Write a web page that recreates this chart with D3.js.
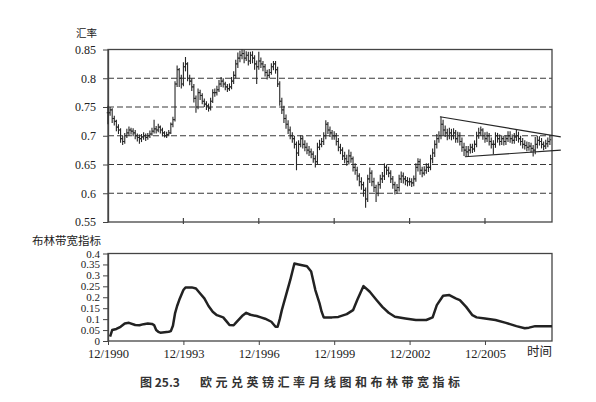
<!DOCTYPE html>
<html><head><meta charset="utf-8">
<script src="https://cdn.jsdelivr.net/npm/d3@7/dist/d3.min.js"></script>
<style>body{margin:0;background:#fff}svg{display:block}</style>
</head><body>
<svg id="c" width="596" height="402"></svg>
<script>
// ---- data ----
const tickMonths = [0, 36, 72, 108, 144, 180];           // months since 12/1990
const tickLabels = ["12/1990", "12/1993", "12/1996", "12/1999", "12/2002", "12/2005"];
const priceTicks = [0.55, 0.6, 0.65, 0.7, 0.75, 0.8, 0.85];
const gridValues = [0.6, 0.65, 0.7, 0.75, 0.8];
const bwTicks = [0, 0.05, 0.1, 0.15, 0.2, 0.25, 0.3, 0.35, 0.4];

// monthly EUR/GBP close, high, low (month 0 = 12/1990)
const close = [
0.740,0.745,0.730,0.725,0.715,0.710,0.695,0.690,0.700,0.705,0.710,0.708,
0.705,0.700,0.697,0.695,0.698,0.700,0.697,0.700,0.703,0.708,0.712,0.710,
0.715,0.710,0.705,0.700,0.702,0.705,0.720,0.728,0.790,0.815,0.800,0.790,
0.820,0.825,0.800,0.795,0.785,0.765,0.750,0.775,0.770,0.760,0.755,0.752,
0.748,0.760,0.775,0.775,0.780,0.790,0.795,0.790,0.785,0.782,0.785,0.795,
0.805,0.825,0.835,0.840,0.843,0.835,0.840,0.830,0.840,0.835,0.825,0.820,
0.830,0.825,0.820,0.810,0.805,0.810,0.820,0.825,0.815,0.790,0.760,0.745,
0.730,0.720,0.710,0.700,0.695,0.685,0.670,0.685,0.695,0.685,0.680,0.675,
0.672,0.668,0.660,0.655,0.680,0.685,0.690,0.700,0.720,0.710,0.705,0.700,
0.700,0.690,0.680,0.675,0.665,0.660,0.655,0.665,0.660,0.645,0.640,0.630,
0.620,0.615,0.605,0.590,0.625,0.635,0.620,0.610,0.600,0.615,0.625,0.630,
0.645,0.640,0.635,0.625,0.615,0.605,0.610,0.625,0.630,0.625,0.622,0.620,
0.620,0.618,0.625,0.645,0.655,0.640,0.635,0.640,0.645,0.645,0.660,0.670,
0.685,0.695,0.700,0.720,0.710,0.705,0.700,0.705,0.700,0.705,0.695,0.700,
0.690,0.680,0.675,0.672,0.675,0.680,0.677,0.685,0.700,0.705,0.710,0.700,
0.695,0.700,0.690,0.685,0.685,0.700,0.695,0.690,0.695,0.690,0.695,0.700,
0.695,0.692,0.698,0.700,0.695,0.690,0.685,0.683,0.680,0.682,0.678,0.675,
0.685,0.692,0.690,0.685,0.682,0.686,0.690,0.693];
const high = [
0.752,0.750,0.748,0.735,0.728,0.720,0.713,0.700,0.705,0.712,0.716,0.714,
0.713,0.710,0.704,0.702,0.703,0.706,0.704,0.705,0.709,0.714,0.728,0.717,
0.721,0.718,0.714,0.708,0.707,0.710,0.723,0.733,0.795,0.822,0.818,0.806,
0.828,0.837,0.828,0.806,0.800,0.790,0.770,0.782,0.780,0.774,0.765,0.760,
0.756,0.766,0.781,0.782,0.787,0.797,0.802,0.800,0.794,0.790,0.791,0.802,
0.812,0.832,0.845,0.848,0.850,0.849,0.847,0.846,0.846,0.847,0.840,0.831,
0.846,0.836,0.830,0.825,0.815,0.816,0.826,0.830,0.830,0.820,0.795,0.766,
0.752,0.737,0.727,0.716,0.706,0.700,0.690,0.692,0.701,0.700,0.692,0.688,
0.682,0.678,0.673,0.666,0.688,0.693,0.696,0.706,0.727,0.724,0.716,0.710,
0.708,0.705,0.696,0.686,0.680,0.672,0.667,0.676,0.672,0.664,0.652,0.646,
0.635,0.628,0.620,0.610,0.632,0.645,0.640,0.627,0.615,0.620,0.632,0.637,
0.652,0.650,0.646,0.640,0.630,0.620,0.616,0.632,0.638,0.636,0.630,0.628,
0.627,0.626,0.631,0.652,0.661,0.660,0.646,0.647,0.652,0.652,0.667,0.678,
0.692,0.703,0.708,0.733,0.728,0.718,0.712,0.714,0.712,0.713,0.710,0.707,
0.706,0.697,0.688,0.682,0.682,0.686,0.686,0.692,0.707,0.714,0.716,0.713,
0.706,0.707,0.705,0.697,0.692,0.706,0.705,0.702,0.701,0.700,0.701,0.708,
0.708,0.702,0.705,0.710,0.707,0.700,0.696,0.692,0.690,0.689,0.688,0.684,
0.698,0.700,0.699,0.696,0.690,0.693,0.697,0.700];
const low = [
0.720,0.735,0.722,0.718,0.708,0.703,0.688,0.684,0.686,0.696,0.700,0.702,
0.699,0.694,0.690,0.686,0.689,0.693,0.691,0.693,0.696,0.700,0.704,0.704,
0.706,0.704,0.699,0.697,0.696,0.699,0.703,0.715,0.725,0.785,0.785,0.782,
0.786,0.812,0.795,0.788,0.778,0.758,0.740,0.746,0.762,0.755,0.750,0.745,
0.742,0.744,0.757,0.768,0.770,0.776,0.785,0.784,0.779,0.776,0.778,0.781,
0.790,0.800,0.818,0.828,0.833,0.826,0.830,0.822,0.825,0.826,0.815,0.790,
0.815,0.818,0.812,0.803,0.798,0.800,0.806,0.814,0.808,0.785,0.752,0.738,
0.722,0.712,0.703,0.694,0.688,0.678,0.640,0.665,0.680,0.678,0.673,0.668,
0.665,0.661,0.653,0.645,0.650,0.675,0.680,0.684,0.694,0.703,0.698,0.693,
0.693,0.683,0.673,0.668,0.658,0.652,0.648,0.650,0.653,0.638,0.632,0.622,
0.612,0.606,0.594,0.575,0.585,0.618,0.612,0.602,0.585,0.595,0.608,0.618,
0.623,0.632,0.628,0.618,0.608,0.598,0.599,0.603,0.618,0.617,0.614,0.612,
0.613,0.611,0.612,0.620,0.638,0.632,0.628,0.631,0.634,0.637,0.640,0.652,
0.663,0.678,0.688,0.694,0.700,0.698,0.692,0.694,0.692,0.694,0.688,0.688,
0.683,0.672,0.665,0.664,0.665,0.669,0.670,0.672,0.680,0.695,0.700,0.693,
0.688,0.689,0.683,0.678,0.668,0.679,0.688,0.683,0.684,0.683,0.684,0.689,
0.688,0.686,0.686,0.691,0.688,0.683,0.678,0.676,0.673,0.674,0.671,0.664,
0.668,0.678,0.683,0.678,0.675,0.677,0.680,0.684];

// triangle trend lines (month, rate)
const trendUpper = [[158.5, 0.733], [216.2, 0.698]];
const trendLower = [[170.4, 0.6635], [216.2, 0.675]];

// Bollinger bandwidth (month, value)
const bwMonth = [1,2,4,6,8,10,13,15,17,19,21,22,23,24,25,27,29,30,31,32,33,34,35,36,37,40,42,44,46,48,50,52,55,57,58,60,61,64,66,68,71,73,75,78,80,81,82,83,85,87,89,91,95,97,99,101,102,103,107,110,114,117,119,122,125,128,131,134,137,142,147,152,155,157,160,163,166,168,171,174,176,180,185,190,195,199,201,204,212];
const bwValue = [0.02,0.05,0.055,0.065,0.08,0.083,0.073,0.072,0.077,0.08,0.078,0.073,0.05,0.042,0.038,0.04,0.042,0.045,0.07,0.126,0.16,0.187,0.21,0.233,0.245,0.245,0.24,0.217,0.195,0.16,0.134,0.118,0.108,0.085,0.073,0.072,0.083,0.114,0.129,0.12,0.114,0.108,0.102,0.088,0.065,0.065,0.1,0.141,0.21,0.278,0.354,0.35,0.342,0.318,0.233,0.172,0.134,0.108,0.108,0.11,0.123,0.141,0.187,0.251,0.225,0.19,0.156,0.129,0.111,0.103,0.096,0.096,0.108,0.164,0.207,0.21,0.195,0.187,0.156,0.118,0.108,0.103,0.096,0.083,0.068,0.058,0.061,0.068,0.068];

// ---- drawing ----
const svg = d3.select("#c");
const ink = "#262626";
const serif = "'Liberation Serif','Times New Roman',serif";
const cjk = "'Noto Sans CJK SC',sans-serif";
const fmt = d3.format(".2~f");

const x = d3.scaleLinear().domain([0, 212]).range([108, 552]);
const yTop = d3.scaleLinear().domain([0.55, 0.85]).range([222, 49.5]);
const yBot = d3.scaleLinear().domain([0, 0.4]).range([341, 253.5]);

// ---- top panel ----
const gTop = svg.append("g");
gTop.append("g").selectAll("line").data(gridValues).join("line")
  .attr("x1", x(0)).attr("x2", x(212))
  .attr("y1", d => yTop(d)).attr("y2", d => yTop(d))
  .attr("stroke", "#3a3a3a").attr("stroke-width", 1.2).attr("stroke-dasharray", "6,3");

gTop.append("rect").attr("x", x(0)).attr("y", yTop(0.85))
  .attr("width", x(212) - x(0)).attr("height", yTop(0.55) - yTop(0.85))
  .attr("fill", "none").attr("stroke", "#444").attr("stroke-width", 1.3);

const yAxTop = gTop.append("g").attr("transform", `translate(${x(0)},0)`)
  .call(d3.axisLeft(yTop).tickValues(priceTicks).tickFormat(fmt).tickSize(5).tickPadding(7).tickSizeOuter(0));
yAxTop.select(".domain").attr("stroke", "#444").attr("stroke-width", 1.3);
yAxTop.selectAll("line").attr("stroke", "#444");
yAxTop.selectAll("text").attr("font-family", serif).attr("font-size", 12).attr("fill", "#222");

gTop.append("g").selectAll("line").data(tickMonths.slice(1)).join("line")
  .attr("x1", d => x(d)).attr("x2", d => x(d))
  .attr("y1", yTop(0.55) - 4).attr("y2", yTop(0.55) + 2)
  .attr("stroke", "#444").attr("stroke-width", 1.2);

// OHLC bars
const bars = gTop.append("g").attr("stroke", ink).attr("stroke-width", 1.1);
close.forEach((c, i) => {
  const xi = x(i);
  const open = i === 0 ? c : close[i - 1];
  bars.append("line").attr("x1", xi).attr("x2", xi).attr("y1", yTop(high[i])).attr("y2", yTop(low[i]));
  bars.append("line").attr("x1", xi - 1.3).attr("x2", xi).attr("y1", yTop(open)).attr("y2", yTop(open));
  bars.append("line").attr("x1", xi).attr("x2", xi + 1.3).attr("y1", yTop(c)).attr("y2", yTop(c));
});

// triangle lines
[trendUpper, trendLower].forEach(t => {
  gTop.append("line")
    .attr("x1", x(t[0][0])).attr("y1", yTop(t[0][1]))
    .attr("x2", x(t[1][0])).attr("y2", yTop(t[1][1]))
    .attr("stroke", ink).attr("stroke-width", 1.2);
});

svg.append("text").attr("x", 76).attr("y", 37).text("汇率")
  .attr("font-family", cjk).attr("font-size", 10.5).attr("fill", "#222");

// ---- bottom panel ----
const gBot = svg.append("g");
gBot.append("rect").attr("x", x(0)).attr("y", yBot(0.4))
  .attr("width", x(212) - x(0)).attr("height", yBot(0) - yBot(0.4))
  .attr("fill", "none").attr("stroke", "#444").attr("stroke-width", 1.3);

const yAxBot = gBot.append("g").attr("transform", `translate(${x(0)},0)`)
  .call(d3.axisLeft(yBot).tickValues(bwTicks).tickFormat(fmt).tickSize(5).tickPadding(3).tickSizeOuter(0));
yAxBot.select(".domain").attr("stroke", "#444").attr("stroke-width", 1.3);
yAxBot.selectAll("line").attr("stroke", "#444");
yAxBot.selectAll("text").attr("font-family", serif).attr("font-size", 11).attr("fill", "#222");

const xAxBot = gBot.append("g").attr("transform", `translate(0,${yBot(0)})`)
  .call(d3.axisBottom(x).tickValues(tickMonths).tickFormat((d, i) => tickLabels[i]).tickSize(4).tickPadding(4).tickSizeOuter(0));
xAxBot.select(".domain").remove();
xAxBot.selectAll("line").attr("stroke", "#444");
xAxBot.selectAll("text").attr("font-family", serif).attr("font-size", 12.5).attr("fill", "#222");

const bwData = bwMonth.map((m, i) => [m, bwValue[i]]);
gBot.append("path").datum(bwData)
  .attr("d", d3.line().x(d => x(d[0])).y(d => yBot(d[1])))
  .attr("fill", "none").attr("stroke", "#222").attr("stroke-width", 2.5)
  .attr("stroke-linejoin", "round");

svg.append("text").attr("x", 32).attr("y", 245).text("布林带宽指标")
  .attr("font-family", cjk).attr("font-size", 11.5).attr("fill", "#222");
svg.append("text").attr("x", 527).attr("y", 356).text("时间")
  .attr("font-family", cjk).attr("font-size", 12.5).attr("fill", "#222");

// caption
svg.append("text").attr("x", 140).attr("y", 387)
  .attr("font-family", cjk).attr("font-size", 12).attr("font-weight", "bold").attr("fill", "#333")
  .call(t => {
    t.append("tspan").text("图 25.3");
    t.append("tspan").attr("x", 200).attr("letter-spacing", 3.5).text("欧元兑英镑汇率月线图和布林带宽指标");
  });
</script>
</body></html>
